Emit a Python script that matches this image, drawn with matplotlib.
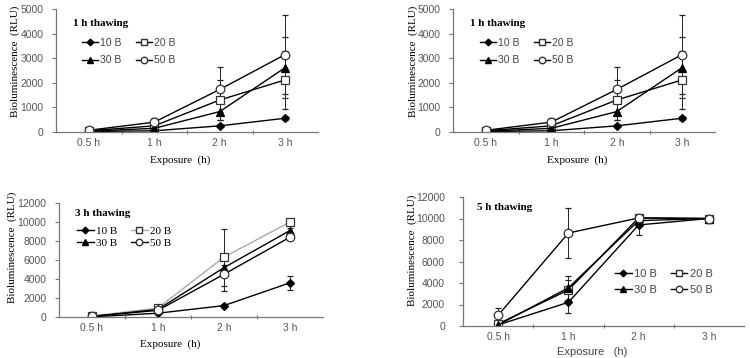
import matplotlib
matplotlib.use("Agg")
import matplotlib.pyplot as plt
from matplotlib.ticker import FixedLocator
from matplotlib.lines import Line2D

categories = ["0.5 h", "1 h", "2 h", "3 h"]
series = ["10 B", "20 B", "30 B", "50 B"]

# 1 h thawing
p1_10 = [20, 50, 250, 560]
p1_20 = [50, 250, 1300, 2120]
p1_30 = [30, 150, 830, 2620]
p1_50 = [70, 400, 1730, 3150]
p1_e10 = [10, 20, 60, 80]
p1_e20 = [20, 100, 830, 1190]
p1_e30 = [10, 60, 350, 1250]
p1_e50 = [30, 150, 920, 1600]

# 3 h thawing
p3_10 = [20, 400, 1200, 3600]
p3_20 = [100, 950, 6300, 10000]
p3_30 = [50, 800, 5200, 9100]
p3_50 = [80, 700, 4500, 8400]
p3_e10 = [10, 100, 150, 750]
p3_e20 = [30, 200, 3000, 0]
p3_e30 = [20, 150, 300, 300]
p3_e50 = [20, 150, 1800, 300]

# 5 h thawing
p5_10 = [100, 2200, 9400, 10000]
p5_20 = [200, 3350, 10050, 10000]
p5_30 = [100, 3550, 9800, 10000]
p5_50 = [1000, 8650, 10050, 10000]
p5_e10 = [50, 1000, 900, 0]
p5_e20 = [80, 900, 100, 0]
p5_e30 = [50, 1100, 200, 0]
p5_e50 = [650, 2350, 100, 0]

W, H = 750, 358
fig = plt.figure(figsize=(7.5, 3.58), dpi=100)

def rect(l, r, t, b):
    return [l / W, 1 - b / H, (r - l) / W, (b - t) / H]

SERIF = "Liberation Serif"
SANS = "Liberation Sans"
TICKC = "#555555"
AXC = "#777777"

styles = [
    dict(marker="D", ms=4.5, mfc="black", mec="black"),
    dict(marker="s", ms=5.8, mfc="white", mec="#333333"),
    dict(marker="^", ms=5.5, mfc="black", mec="black"),
    dict(marker="o", ms=6.2, mfc="white", mec="#333333"),
]

def panel(box, ys, es, ymax, ystep, title, tpos, legpos, legfont, legspace,
          colgap, linecolors, ypad=6):
    ax = fig.add_axes(rect(*box))
    x = list(range(len(categories)))
    for y, e, st, lab, lc in zip(ys, es, styles, series, linecolors):
        ax.errorbar(x, y, yerr=e, color=lc, lw=1.0, ecolor="#222222",
                    elinewidth=0.7, capsize=2.2, capthick=0.7, label=lab,
                    mew=0.9, **st)
    ax.set_xlim(-0.5, 3.5)
    ax.set_ylim(0, ymax)
    ax.set_yticks(range(0, ymax + 1, ystep))
    ax.set_xticks(x)
    ax.set_xticklabels(categories)
    ax.xaxis.set_minor_locator(FixedLocator([0.5, 1.5, 2.5]))
    ax.tick_params(axis="x", which="major", length=0, pad=4, labelsize=7.5,
                   labelcolor=TICKC)
    ax.tick_params(axis="x", which="minor", length=3, direction="inout",
                   color=AXC, width=0.8)
    ax.tick_params(axis="y", length=3, direction="out", color=AXC,
                   labelsize=7.5, labelcolor=TICKC, width=0.8, pad=ypad)
    for lab in ax.get_xticklabels() + ax.get_yticklabels():
        lab.set_fontfamily(SANS)
    for s in ("top", "right"):
        ax.spines[s].set_visible(False)
    for s in ("left", "bottom"):
        ax.spines[s].set_color(AXC)
        ax.spines[s].set_linewidth(0.9)
    ax.text(tpos[0], tpos[1], title, transform=ax.transAxes, ha="left",
            va="center", fontsize=8, family=SERIF, fontweight="bold")
    hs = []
    for st, lc in zip(styles, linecolors):
        d = dict(st)
        d["ms"] = d["ms"] * 0.75
        hs.append(Line2D([], [], color=lc, lw=1.0, **d))
    order = [0, 2, 1, 3]
    leg = ax.legend([hs[i] for i in order], [series[i] for i in order],
                    ncol=2, loc="upper left", bbox_to_anchor=legpos,
                    frameon=False, borderpad=0, borderaxespad=0,
                    handlelength=1.5, handletextpad=0.25,
                    columnspacing=colgap, labelspacing=legspace,
                    prop=legfont)
    if legfont.get("family") == SANS:
        for t in leg.get_texts():
            t.set_color("#444444")
    return ax

sans_leg = {"family": SANS, "size": 7.5}
serif_leg = {"family": SERIF, "size": 8}

panel((56, 318, 9, 132), [p1_10, p1_20, p1_30, p1_50],
      [p1_e10, p1_e20, p1_e30, p1_e50], 5000, 1000, "1 h thawing",
      (0.065, 0.886), (0.099, 0.765), sans_leg, 0.7, 1.4, ["black"] * 4)
panel((453, 715, 9, 132), [p1_10, p1_20, p1_30, p1_50],
      [p1_e10, p1_e20, p1_e30, p1_e50], 5000, 1000, "1 h thawing",
      (0.065, 0.886), (0.103, 0.765), sans_leg, 0.7, 1.4, ["black"] * 4)
panel((59, 323, 203, 317), [p3_10, p3_20, p3_30, p3_50],
      [p3_e10, p3_e20, p3_e30, p3_e50], 12000, 2000, "3 h thawing",
      (0.06, 0.91), (0.068, 0.80), serif_leg, 0.25, 1.2,
      ["black", "#aaaaaa", "black", "black"])
panel((463, 744, 197, 326), [p5_10, p5_20, p5_30, p5_50],
      [p5_e10, p5_e20, p5_e30, p5_e50], 12000, 2000, "5 h thawing",
      (0.05, 0.92), (0.541, 0.44), {"family": SANS, "size": 8}, 0.5, 1.2,
      ["black"] * 4, ypad=10)

# axis labels
for (x, y) in [(15, 61), (413, 61), (12, 247), (412, 250)]:
    fig.text(x / W, 1 - y / H, "Bioluminescence  (RLU)", rotation=90,
             ha="center", va="center", fontsize=8, family=SERIF)
for (x, y) in [(180, 160), (577, 160), (170, 344)]:
    fig.text(x / W, 1 - y / H, "Exposure  (h)", ha="center", va="center",
             fontsize=8, family=SERIF)
fig.text(592 / W, 1 - 352 / H, "Exposure   (h)", ha="center", va="center",
         fontsize=8, family=SANS, color="#444444")

fig.savefig("out.png", dpi=100)
